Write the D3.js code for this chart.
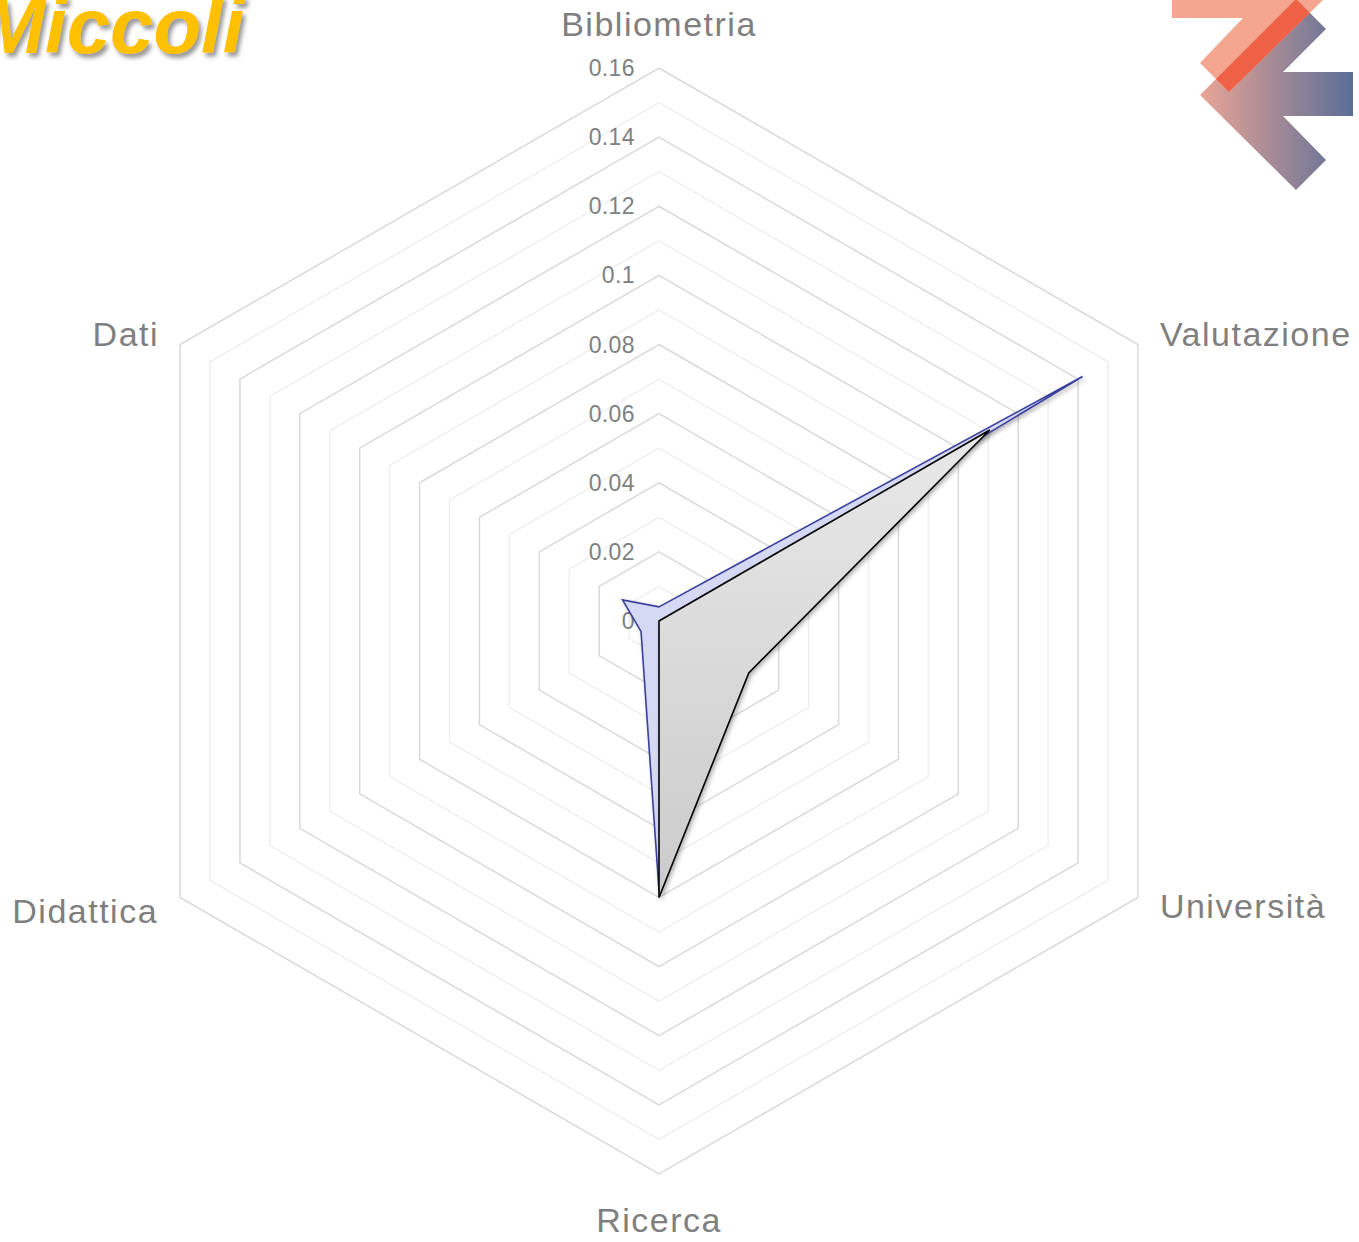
<!DOCTYPE html>
<html>
<head>
<meta charset="utf-8">
<script src="https://cdn.jsdelivr.net/npm/d3@7"></script>
<style>
  body { margin: 0; background: #fff; }
  svg { display: block; }
</style>
</head>
<body>
<div id="wrapper"></div>
<script>
// Dati del grafico
const categories = ["Bibliometria", "Valutazione", "Università", "Ricerca", "Didattica", "Dati"];
const seriesBlue = [0.0041, 0.1415, 0.003, 0.078, 0.006, 0.0122];
const seriesGray = [0, 0.1105, 0.03, 0.08, 0, 0];
const tickValues = [0, 0.02, 0.04, 0.06, 0.08, 0.1, 0.12, 0.14, 0.16];
const tickLabels = ["0", "0.02", "0.04", "0.06", "0.08", "0.1", "0.12", "0.14", "0.16"];
const gridLevels = d3.range(1, 17).map(i => i / 100);
const title = "Miccoli";

// Dimensioni
const width = 1359;
const height = 1242;
const cx = 659;
const cy = 621;
const maxR = 553;

const svg = d3.select("#wrapper").append("svg")
  .attr("width", width)
  .attr("height", height);

const defs = svg.append("defs");

// Ombra per le serie
const shadow = defs.append("filter").attr("id", "shadow")
  .attr("x", "-10%").attr("y", "-10%").attr("width", "120%").attr("height", "120%");
shadow.append("feDropShadow")
  .attr("dx", 2).attr("dy", 2).attr("stdDeviation", 2)
  .attr("flood-color", "#000").attr("flood-opacity", 0.3);

const titleShadow = defs.append("filter").attr("id", "titleShadow")
  .attr("x", "-10%").attr("y", "-20%").attr("width", "130%").attr("height", "150%");
titleShadow.append("feDropShadow")
  .attr("dx", 3).attr("dy", 4).attr("stdDeviation", 2)
  .attr("flood-color", "#555").attr("flood-opacity", 0.6);

// Gradiente grigio
const grayGrad = defs.append("linearGradient").attr("id", "grayGrad")
  .attr("x1", 0).attr("y1", 0).attr("x2", 0).attr("y2", 1);
grayGrad.append("stop").attr("offset", "0%").attr("stop-color", "#e8e8e8");
grayGrad.append("stop").attr("offset", "100%").attr("stop-color", "#cbcbcb");

// Scala radiale
const r = d3.scaleLinear().domain([0, 0.16]).range([0, maxR]);
const angle = i => i * Math.PI * 2 / categories.length;
const px = (i, v) => cx + r(v) * Math.sin(angle(i));
const py = (i, v) => cy - r(v) * Math.cos(angle(i));

const line = d3.line().curve(d3.curveLinearClosed);

// Griglia esagonale
const grid = svg.append("g");
grid.selectAll("path")
  .data(gridLevels)
  .join("path")
  .attr("d", v => line(categories.map((c, i) => [px(i, v), py(i, v)])))
  .attr("fill", "none")
  .attr("stroke", (v, k) => (k % 2 === 1) ? "#d9d9d9" : "#efefef")
  .attr("stroke-width", 1.5);

// Etichette dei valori
svg.append("g").selectAll("text")
  .data(tickValues)
  .join("text")
  .attr("x", cx - 24)
  .attr("y", v => cy - r(v) + 2)
  .attr("text-anchor", "end")
  .attr("dominant-baseline", "middle")
  .attr("font-family", "Liberation Sans, Arial, sans-serif")
  .attr("font-size", 23)
  .attr("letter-spacing", 0.4)
  .attr("fill", "#808080")
  .text((v, k) => tickLabels[k]);

// Serie
svg.append("path")
  .attr("d", line(seriesBlue.map((v, i) => [px(i, v), py(i, v)])))
  .attr("fill", "#d6d9f3")
  .attr("stroke", "#3a3f9c")
  .attr("stroke-width", 1.6)
  .attr("stroke-linejoin", "miter")
  .attr("filter", "url(#shadow)");

svg.append("path")
  .attr("d", line(seriesGray.map((v, i) => [px(i, v), py(i, v)])))
  .attr("fill", "url(#grayGrad)")
  .attr("stroke", "#000")
  .attr("stroke-width", 1.6)
  .attr("stroke-linejoin", "miter")
  .attr("filter", "url(#shadow)");

// Etichette delle categorie
const labelPos = [
  { dx: 0, dy: -32, anchor: "middle" },
  { dx: 22, dy: 1, anchor: "start" },
  { dx: 22, dy: 20, anchor: "start" },
  { dx: 0, dy: 58, anchor: "middle" },
  { dx: -22, dy: 25, anchor: "end" },
  { dx: -21, dy: 1, anchor: "end" }
];
svg.append("g").selectAll("text")
  .data(categories)
  .join("text")
  .attr("x", (c, i) => px(i, 0.16) + labelPos[i].dx)
  .attr("y", (c, i) => py(i, 0.16) + labelPos[i].dy)
  .attr("text-anchor", (c, i) => labelPos[i].anchor)
  .attr("font-family", "Liberation Sans, Arial, sans-serif")
  .attr("font-size", 34)
  .attr("letter-spacing", 1.5)
  .attr("fill", "#7f7f7f")
  .text(c => c);

// Titolo
svg.append("text")
  .attr("x", -20)
  .attr("y", 53)
  .attr("font-family", "Liberation Sans, Arial, sans-serif")
  .attr("font-size", 78)
  .attr("font-weight", "bold")
  .attr("font-style", "italic")
  .attr("fill", "#ffc000")
  .attr("filter", "url(#titleShadow)")
  .text(title);

// Logo in alto a destra
const logoGrad = defs.append("linearGradient").attr("id", "logoGrad")
  .attr("gradientUnits", "userSpaceOnUse")
  .attr("x1", 1200).attr("y1", 0).attr("x2", 1353).attr("y2", 0);
logoGrad.append("stop").attr("offset", "0%").attr("stop-color", "#eaa595");
logoGrad.append("stop").attr("offset", "100%").attr("stop-color", "#5a6e98");

const navyPts = [[1200, 95], [1295, 0], [1297, 0], [1326, 29], [1283, 72], [1353, 72],
  [1353, 116], [1283, 116], [1326, 160], [1296, 190]];
const salmonPts = [[1172, 0], [1323, 0], [1229, 92], [1200, 63], [1243, 18], [1172, 18]];
const polyLine = d3.line().curve(d3.curveLinearClosed);

defs.append("clipPath").attr("id", "navyClip")
  .append("path").attr("d", polyLine(navyPts));

const logo = svg.append("g");
logo.append("path").attr("d", polyLine(navyPts)).attr("fill", "url(#logoGrad)");
logo.append("path").attr("d", polyLine(salmonPts)).attr("fill", "#f5a690");
logo.append("path").attr("d", polyLine(salmonPts)).attr("fill", "#ef6248")
  .attr("clip-path", "url(#navyClip)");
</script>
</body>
</html>
